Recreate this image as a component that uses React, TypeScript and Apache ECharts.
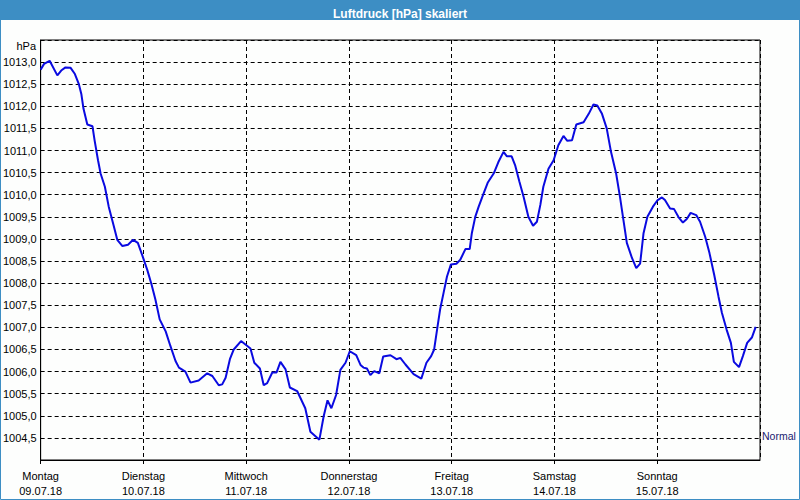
import React, { useEffect, useRef } from "react";
import * as echarts from "echarts";

const dayLabels = [
  "Montag\n09.07.18",
  "Dienstag\n10.07.18",
  "Mittwoch\n11.07.18",
  "Donnerstag\n12.07.18",
  "Freitag\n13.07.18",
  "Samstag\n14.07.18",
  "Sonntag\n15.07.18",
];

// hours since Monday 00:00
const hours = [
  0, 0.8, 2.1, 3.9, 4.8, 5.8, 7.0, 8.0, 8.9, 9.5, 10.0, 10.9, 12.1, 12.6, 13.4, 14.0,
  15.0, 15.9, 17.0, 17.9, 19.1, 20.4, 21.6, 22.7, 23.7, 24.9, 25.9, 26.8, 27.8, 29.2,
  30.3, 31.5, 32.3, 33.8, 35.0, 36.9, 38.9, 40.1, 41.6, 42.4, 43.2, 44.2, 45.1, 46.8,
  49.0, 49.9, 51.2, 52.1, 52.9, 54.1, 55.1, 56.0, 57.2, 58.2, 59.9, 61.8, 63.0, 65.1,
  66.1, 67.0, 67.9, 69.0, 70.0, 71.2, 72.2, 73.7, 74.7, 75.4, 76.2, 77.0, 77.9, 79.1,
  80.0, 81.7, 83.1, 84.0, 85.2, 87.1, 88.9, 90.1, 91.2, 91.9, 92.6, 93.3, 94.1, 94.9,
  95.8, 97.1, 98.0, 99.2, 100.2, 100.7, 101.5, 102.3, 103.3, 104.4, 105.8, 106.9,
  108.1, 108.9, 110.0, 110.8, 111.8, 112.8, 113.9, 115.0, 115.9, 116.7, 117.4, 118.6,
  119.8, 120.9, 122.1, 123.0, 124.1, 125.1, 126.8, 128.0, 129.1, 130.0, 131.1, 132.2,
  133.2, 134.4, 135.3, 136.1, 136.9, 138.1, 139.1, 140.0, 140.8, 141.7, 143.0, 144.1,
  145.1, 145.8, 147.0, 147.9, 149.0, 150.0, 150.9, 151.8, 153.1, 154.0, 155.2, 156.2,
  157.3, 158.3, 159.1, 160.2, 161.2, 161.9, 163.1, 164.0, 165.0, 166.1, 167.0,
];

const pressure = [
  1012.83, 1012.96, 1013.03, 1012.70, 1012.81, 1012.88, 1012.87, 1012.73, 1012.51, 1012.28,
  1011.95, 1011.59, 1011.55, 1011.23, 1010.78, 1010.48, 1010.18, 1009.73, 1009.32, 1008.98,
  1008.84, 1008.87, 1008.98, 1008.91, 1008.64, 1008.30, 1007.97, 1007.63, 1007.18, 1006.91,
  1006.58, 1006.24, 1006.09, 1006.00, 1005.75, 1005.80, 1005.96, 1005.90, 1005.69, 1005.71,
  1005.86, 1006.28, 1006.50, 1006.69, 1006.52, 1006.20, 1006.07, 1005.69, 1005.74, 1005.98,
  1005.98, 1006.22, 1006.05, 1005.64, 1005.56, 1005.17, 1004.64, 1004.46, 1004.99, 1005.35,
  1005.17, 1005.47, 1006.04, 1006.20, 1006.46, 1006.37, 1006.15, 1006.09, 1006.07, 1005.92,
  1006.01, 1005.96, 1006.34, 1006.37, 1006.28, 1006.31, 1006.16, 1005.94, 1005.84, 1006.20,
  1006.35, 1006.50, 1006.96, 1007.41, 1007.78, 1008.15, 1008.42, 1008.44, 1008.53, 1008.77,
  1008.77, 1009.13, 1009.50, 1009.73, 1009.99, 1010.27, 1010.48, 1010.74, 1010.97, 1010.87,
  1010.87, 1010.67, 1010.30, 1009.95, 1009.50, 1009.30, 1009.39, 1009.77, 1010.18, 1010.59,
  1010.78, 1011.12, 1011.33, 1011.22, 1011.23, 1011.59, 1011.64, 1011.83, 1012.04, 1012.02,
  1011.83, 1011.50, 1010.97, 1010.48, 1009.95, 1009.43, 1008.91, 1008.57, 1008.34, 1008.44,
  1009.13, 1009.50, 1009.73, 1009.88, 1009.94, 1009.88, 1009.69, 1009.68, 1009.49, 1009.37,
  1009.45, 1009.59, 1009.54, 1009.39, 1009.05, 1008.68, 1008.19, 1007.70, 1007.33, 1006.95,
  1006.65, 1006.22, 1006.10, 1006.35, 1006.65, 1006.77, 1007.01,
];

const normalLevel = 1004.55;
const yMin = 1004.0;
const yMax = 1013.5;

const FONT = "Liberation Sans";

export default function App() {
  const ref = useRef<HTMLDivElement>(null);
  useEffect(() => {
    if (!ref.current) return;
    const chart = echarts.init(ref.current, undefined, { renderer: "svg" });
    const data = hours.map((h, i) => [h, pressure[i]]);
    chart.setOption({
      animation: false,
      backgroundColor: "#fdfefd",
      title: {
        text: "Luftdruck [hPa] skaliert",
        left: "center",
        top: 3,
        textStyle: { color: "#ffffff", fontWeight: "bold", fontSize: 12, fontFamily: FONT },
      },
      graphic: [
        { type: "rect", z: -1, shape: { x: 0, y: 0, width: 800, height: 20 }, style: { fill: "#3d8ec4" } },
        {
          type: "rect",
          z: 100,
          shape: { x: 0.5, y: 0.5, width: 799, height: 499 },
          style: { fill: "none", stroke: "#3d8ec4", lineWidth: 1 },
        },
        {
          type: "text",
          x: 36,
          y: 46,
          style: { text: "hPa", align: "right", verticalAlign: "middle", font: `11px "${FONT}"`, fill: "#000" },
        },
      ],
      grid: {
        left: 40,
        right: 40,
        top: 40,
        bottom: 40,
        show: true,
        borderColor: "#000",
        borderWidth: 1,
        backgroundColor: "#fdfefd",
      },
      xAxis: {
        type: "value",
        min: 0,
        max: 168,
        interval: 24,
        axisLine: { show: true, lineStyle: { color: "#000", width: 1 } },
        axisTick: { show: true, length: 4, lineStyle: { color: "#000" } },
        splitLine: { show: true, lineStyle: { color: "#000", type: [4, 3], width: 1 } },
        axisLabel: {
          margin: 8,
          color: "#000",
          fontSize: 11,
          fontFamily: FONT,
          lineHeight: 15,
          showMaxLabel: false,
          formatter: (v: number) => {
            const i = Math.round(v / 24);
            return i < dayLabels.length ? dayLabels[i] : "";
          },
        },
      },
      yAxis: {
        type: "value",
        min: yMin,
        max: yMax,
        interval: 0.5,
        axisLine: { show: true, lineStyle: { color: "#000", width: 1 } },
        axisTick: { show: false },
        splitLine: { show: true, lineStyle: { color: "#000", type: [4, 3], width: 1 } },
        axisLabel: {
          margin: 4,
          color: "#000",
          fontSize: 11,
          fontFamily: FONT,
          formatter: (v: number) => {
            if (v >= yMax - 0.01 || v <= yMin + 0.01) return "";
            return v.toFixed(1).replace(".", ",");
          },
        },
      },
      series: [
        {
          type: "line",
          data,
          showSymbol: false,
          symbol: "none",
          smooth: false,
          lineStyle: { color: "#0a0ae0", width: 2 },
          markLine: {
            silent: true,
            symbol: "none",
            lineStyle: { color: "rgba(0,0,0,0)", width: 1, type: "solid" },
            label: {
              show: true,
              position: "end",
              distance: 2,
              formatter: "Normal",
              color: "#1a1a70",
              fontSize: 10.5,
              fontFamily: FONT,
            },
            data: [{ yAxis: normalLevel }],
          },
        },
      ],
    });
    return () => chart.dispose();
  }, []);
  return (
    <div
      ref={ref}
      style={{ position: "fixed", left: 0, top: 0, width: 800, height: 500 }}
    />
  );
}
